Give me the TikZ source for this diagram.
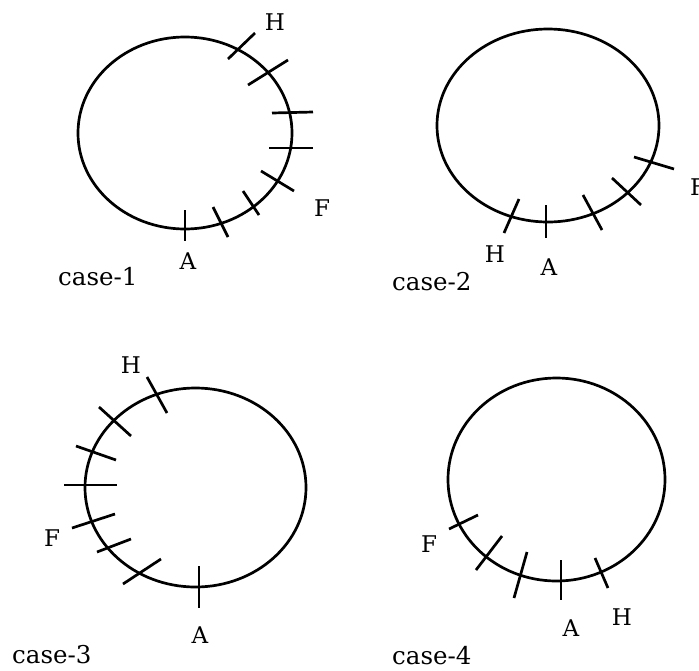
\documentclass[tikz,border=0pt]{standalone}
\usepackage{fontspec}
\setmainfont{DejaVu Serif}
\begin{document}
\begin{tikzpicture}[x=1pt,y=-1pt,
  ring/.style={line width=2.7pt},
  tick/.style={line width=2.7pt},
  pt/.style={inner sep=0pt,font=\fontsize{23}{23}\selectfont},
  casetxt/.style={inner sep=0pt,anchor=base west,font=\fontsize{24.5}{24.5}\selectfont}]
\useasboundingbox (0,0) rectangle (699,670);
% ---------------- case 1
\draw[ring] (185,133) ellipse [x radius=107pt, y radius=96pt];
\draw[tick] (228,59) -- (255,33);
\draw[tick] (248,85) -- (288,60);
\draw[tick] (272,113) -- (313,112);
\draw[tick] (269,148) -- (313,148);
\draw[tick] (261,171) -- (294,191);
\draw[tick] (243,191) -- (259,215);
\draw[tick] (213,207) -- (228,237);
\draw[tick] (185,210) -- (185,241);
\node[pt] (h1) at (275,22) {H};
\node[pt] (f1) at (322,208) {F};
\node[pt] (a1) at (188,261) {A};
\node[casetxt] (c1) at (58,285) {case-1};
% ---------------- case 2
\draw[ring] (548,125.5) ellipse [x radius=111pt, y radius=96.5pt];
\draw[tick] (504,233) -- (519,199);
\draw[tick] (546,205) -- (546,238);
\draw[tick] (583,195) -- (602,230);
\draw[tick] (612,178) -- (641,205);
\draw[tick] (634,157) -- (674,169);
\node[pt] (h2) at (495,254) {H};
\node[pt] (a2) at (549,267) {A};
\node[pt,anchor=west] (f2) at (690,187) {F};
\node[casetxt] (c2) at (392,290) {case-2};
% ---------------- case 3
\draw[ring] (195.5,487.5) ellipse [x radius=110.5pt, y radius=99.5pt];
\draw[tick] (147,377) -- (167,413);
\draw[tick] (99,407) -- (131,436);
\draw[tick] (76,446) -- (116,460);
\draw[tick] (64,485) -- (117,485);
\draw[tick] (72,528) -- (115,514);
\draw[tick] (97,552) -- (131,539);
\draw[tick] (123,584) -- (161,559);
\draw[tick] (199,566) -- (199,608);
\node[pt] (h3) at (131,365) {H};
\node[pt] (f3) at (52,538) {F};
\node[pt] (a3) at (200,635) {A};
\node[casetxt] (c3) at (12,663) {case-3};
% ---------------- case 4
\draw[ring] (556.5,479.5) ellipse [x radius=108.5pt, y radius=101.5pt];
\draw[tick] (449,529) -- (478,515);
\draw[tick] (476,570) -- (502,536);
\draw[tick] (514,598) -- (527,552);
\draw[tick] (561,560) -- (561,600);
\draw[tick] (595,558) -- (608,588);
\node[pt] (f4) at (429,544) {F};
\node[pt] (a4) at (571,628) {A};
\node[pt] (h4) at (622,617) {H};
\node[casetxt] (c4) at (392,664) {case-4};
\end{tikzpicture}
\end{document}
